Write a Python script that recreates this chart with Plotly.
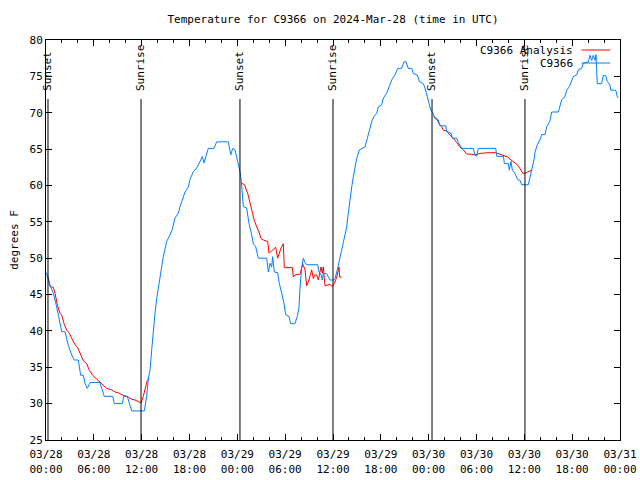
import plotly.graph_objects as go
from datetime import datetime, timedelta

BASE = datetime(2024, 3, 28)

# Observed series C9366 (hours since 03/28 00:00 UTC, degrees F)
obs_hours = [0.05, 0.5, 0.92, 1.34, 1.97, 2.38, 2.8, 3.22, 3.55, 4.05, 4.35, 4.68, 4.89, 5.18, 5.52,
             6.77, 6.99, 7.31, 8.37, 8.57, 9.57, 9.78, 10.2, 10.45, 10.75, 12.33, 12.63, 12.84, 13.05,
             13.26, 13.46, 13.67, 13.89, 14.09, 14.3, 14.51, 14.71, 14.93, 15.14, 15.55, 15.85, 16.18,
             16.6, 16.81, 17.15, 17.44, 17.85, 18.06, 18.48, 18.9, 19.32, 19.61, 19.82, 20.16, 20.36,
             21.07, 21.41, 22.87, 23.17, 23.42, 23.71, 24.04, 24.33, 24.5, 24.75, 25.17, 25.46, 25.8,
             26.0, 26.3, 26.63, 27.68, 27.89, 28.1, 28.31, 28.43, 28.64, 29.06, 29.27, 29.56, 29.85,
             30.07, 30.48, 30.69, 31.23, 31.52, 31.74, 31.86, 32.07, 32.28, 32.49, 32.7, 34.08, 34.25,
             34.5, 34.66, 34.78, 35.2, 35.62, 36.04, 36.25, 36.54, 36.88, 37.22, 37.51, 37.72, 37.92,
             38.14, 38.35, 38.55, 38.76, 38.97, 39.3, 39.6, 40.02, 40.31, 40.56, 40.86, 41.14, 41.48,
             41.69, 42.11, 42.31, 42.74, 43.06, 43.36, 43.78, 44.11, 44.61, 44.9, 45.16, 45.44, 45.87,
             46.07, 46.57, 46.83, 47.33, 47.54, 47.83, 48.04, 48.26, 48.51, 48.8, 49.21, 49.42, 50.14,
             50.26, 50.8, 50.97, 51.52, 51.72, 52.06, 52.14, 53.6, 53.81, 54.02, 54.23, 56.41, 56.54,
             57.37, 57.5, 58.0, 58.12, 58.33, 58.5, 58.75, 58.92, 59.17, 59.46, 59.67, 60.5, 60.71,
             60.93, 61.21, 61.34, 61.63, 61.97, 62.18, 62.59, 62.81, 63.22, 63.43, 64.27, 64.48, 64.69,
             65.1, 65.32, 65.65, 65.95, 66.15, 66.57, 66.77, 67.19, 67.4, 68.03, 68.24, 68.45, 68.65,
             68.87, 68.99, 69.15, 69.7, 69.9, 70.2, 70.41, 70.75, 70.84, 71.47, 71.67, 71.8]
obs_temp = [48.0, 46.3, 45.2, 43.3, 39.9, 39.9, 38.0, 36.7, 36.0, 36.0, 33.9, 33.9, 32.8, 32.1, 32.9,
            32.9, 32.1, 31.0, 31.0, 30.0, 30.0, 31.1, 31.0, 30.0, 29.0, 29.0, 31.0, 33.5, 34.6,
            37.4, 40.1, 42.4, 44.5, 46.1, 47.5, 48.8, 50.2, 51.4, 52.3, 53.2, 54.0, 55.5,
            56.2, 57.1, 58.2, 59.1, 59.8, 60.8, 61.9, 62.4, 63.3, 64.0, 63.1, 64.2, 65.1,
            65.1, 66.0, 66.0, 64.2, 65.1, 64.9, 63.3, 61.9, 60.6, 57.1, 56.9, 54.8, 53.2,
            52.0, 51.6, 50.0, 50.0, 48.1, 49.3, 48.8, 50.2, 48.1, 48.0, 46.5, 45.2, 43.8,
            42.2, 42.0, 41.0, 41.0, 42.0, 43.3, 45.9, 48.6, 50.0, 49.4, 49.1, 49.1, 48.1,
            47.7, 47.0, 47.9, 47.9, 47.0, 47.0, 47.2, 48.4, 50.0, 51.6, 53.0, 54.3, 56.2,
            58.5, 59.8, 61.2, 62.6, 63.7, 64.9, 65.1, 65.3, 66.5, 67.6, 68.8, 69.5, 69.9,
            70.8, 71.1, 72.0, 72.7, 73.6, 74.5, 75.2, 76.1, 76.1, 77.0, 77.0, 76.1, 76.1,
            75.4, 75.2, 74.3, 74.0, 73.4, 72.2, 71.3, 70.4, 70.0, 69.2, 69.0, 68.2, 68.2,
            67.4, 67.2, 66.5, 66.5, 65.9, 65.3, 65.1, 65.1, 64.2, 64.0, 65.1, 65.1, 64.0,
            64.0, 63.0, 63.0, 62.1, 63.3, 62.1, 61.8, 61.3, 60.8, 60.7, 60.1, 60.1, 61.0,
            62.1, 63.5, 64.6, 65.6, 66.3, 67.0, 67.0, 68.1, 68.9, 70.1, 70.1, 71.1, 71.8,
            72.2, 73.1, 73.6, 74.3, 75.0, 75.2, 75.9, 76.1, 76.8, 77.0, 77.9, 77.2, 77.9,
            77.2, 78.0, 74.0, 74.0, 75.1, 75.1, 74.3, 73.8, 73.1, 73.1, 72.2, 72.0]

# Analysis series (nighttime only; None = gap)
ana_hours = [0.25, 0.5, 0.92, 1.13, 1.42, 1.76, 1.97, 2.26, 2.59, 2.92, 3.22, 3.64, 3.93, 4.26, 4.68,
             5.1, 5.43, 5.85, 6.36, 6.77, 7.19, 7.61, 8.24, 8.66, 9.07, 9.5, 9.91, 10.32, 10.75,
             11.16, 11.58, 11.92, 12.2, 12.42, 12.71, 12.96,
             None,
             24.55, 24.9, 25.3, 25.59, 25.8, 26.13, 26.43, 26.72, 26.97, 27.26, 27.81, 27.97, 28.31,
             28.81, 29.06, 29.48, 29.77, 29.89, 30.9, 31.02, 31.23, 31.86, 32.2, 32.49, 32.7, 32.99,
             33.33, 33.53, 33.74, 33.96, 34.16, 34.5, 34.66, 34.78, 35.0, 35.62, 35.91, 36.16, 36.47,
             36.75, 36.84, 37.09,
             None,
             48.6, 49.0, 49.3, 49.63, 49.84, 50.26, 50.68, 51.09, 51.52, 51.93, 52.35, 52.77, 53.4,
             53.81, 54.44, 55.28, 56.41, 56.95, 57.37, 57.92, 58.33, 58.75, 59.17, 59.46, 59.87,
             60.3, 60.93]
ana_temp = [47.5, 46.1, 46.0, 45.2, 43.6, 42.4, 42.2, 41.0, 40.1, 39.7, 39.0, 38.1, 37.8, 36.9, 35.9,
            35.5, 34.6, 33.9, 33.4, 32.9, 32.6, 32.1, 31.9, 31.6, 31.5, 31.2, 31.0, 30.9, 30.6,
            30.5, 30.3, 30.1, 31.0, 32.1, 33.2, 33.5,
            None,
            60.3, 60.1, 58.9, 57.5, 56.6, 55.2, 54.3, 53.6, 52.7, 52.5, 52.3, 50.7, 51.0,
            51.5, 50.0, 51.4, 52.0, 48.7, 48.7, 47.4, 47.7, 47.8, 49.2, 48.4, 46.2, 47.0,
            48.4, 47.2, 47.7, 47.7, 47.0, 48.8, 47.9, 48.8, 46.2, 46.4, 46.1, 46.5, 47.4,
            48.8, 47.4, 47.4,
            None,
            69.5, 69.2, 68.5, 68.1, 67.6, 67.5, 66.9, 66.5, 65.9, 65.3, 64.9, 64.3, 64.3,
            64.2, 64.4, 64.5, 64.5, 64.3, 64.2, 63.9, 63.5, 63.1, 62.8, 62.3, 61.6,
            61.8, 62.1]

sun_hours = [0.25, 11.92, 24.33, 36.0, 48.42, 60.08]
sun_labels = ["Sunset", "Sunrise", "Sunset", "Sunrise", "Sunset", "Sunrise"]

tick_hours = [0, 6, 12, 18, 24, 30, 36, 42, 48, 54, 60, 66, 72]
tick_labels = ["03/28<br>00:00", "03/28<br>06:00", "03/28<br>12:00", "03/28<br>18:00",
               "03/29<br>00:00", "03/29<br>06:00", "03/29<br>12:00", "03/29<br>18:00",
               "03/30<br>00:00", "03/30<br>06:00", "03/30<br>12:00", "03/30<br>18:00",
               "03/31<br>00:00"]

series_names = ["C9366 Analysis", "C9366"]
series_colors = ["#ff0000", "#0080ff"]


def to_t(h):
    return None if h is None else BASE + timedelta(hours=h)


FONT = "DejaVu Sans Mono"

fig = go.Figure()
fig.add_trace(go.Scatter(x=[to_t(h) for h in ana_hours], y=ana_temp, mode="lines",
                         name=series_names[0], line=dict(color=series_colors[0], width=1),
                         connectgaps=False, showlegend=False))
fig.add_trace(go.Scatter(x=[to_t(h) for h in obs_hours], y=obs_temp, mode="lines",
                         name=series_names[1], line=dict(color=series_colors[1], width=1),
                         showlegend=False))

shapes = []
annotations = []
for h, lab in zip(sun_hours, sun_labels):
    t = to_t(h)
    shapes.append(dict(type="line", xref="x", yref="paper", x0=t, x1=t, y0=0, y1=0.8525,
                       line=dict(color="black", width=1)))
    annotations.append(dict(x=t, y=0.8675, xref="x", yref="paper", text=lab, showarrow=False,
                            textangle=-90, xanchor="center", yanchor="bottom",
                            font=dict(family=FONT, size=11, color="black")))

# gnuplot-style legend: text then line sample, top-right inside plot
for i, (nm, col) in enumerate(zip(series_names, series_colors)):
    yy = 0.975 - i * 0.0325
    annotations.append(dict(x=0.921, y=yy, xref="paper", yref="paper", text=nm, showarrow=False,
                            xanchor="right", yanchor="middle",
                            font=dict(family=FONT, size=11, color="black")))
    shapes.append(dict(type="line", xref="paper", yref="paper", x0=0.933, x1=0.983, y0=yy, y1=yy,
                       line=dict(color=col, width=1)))

fig.update_layout(
    width=640, height=480,
    margin=dict(l=46, r=20, t=40, b=40),
    paper_bgcolor="white", plot_bgcolor="white",
    title=dict(text="Temperature for C9366 on 2024-Mar-28 (time in UTC)", x=333 / 640,
               xanchor="center", y=1 - 19 / 480, yanchor="middle",
               font=dict(family=FONT, size=11, color="black")),
    font=dict(family=FONT, size=11, color="black"),
    shapes=shapes, annotations=annotations,
)
fig.update_xaxes(
    range=[to_t(0), to_t(72)], tickvals=[to_t(h) for h in tick_hours], ticktext=tick_labels,
    showgrid=False, zeroline=False, showline=True, linecolor="black", linewidth=1, mirror="ticks",
    ticks="inside", ticklen=6, tickcolor="black", automargin=False, ticklabelstandoff=4,
    minor=dict(dtick=2 * 3600 * 1000, tick0=to_t(0), ticks="inside", ticklen=3, tickcolor="black"),
    tickfont=dict(family=FONT, size=11),
)
fig.update_yaxes(
    range=[25, 80], dtick=5, tick0=25, showgrid=False, zeroline=False, showline=True,
    linecolor="black", linewidth=1, mirror="ticks", ticks="inside", ticklen=6, tickcolor="black",
    automargin=False,
    title=dict(text="degrees F", font=dict(family=FONT, size=11), standoff=8),
    tickfont=dict(family=FONT, size=11),
)

fig.write_html("out.html", config={"displayModeBar": False},
               post_script="document.body.style.margin='0';")
